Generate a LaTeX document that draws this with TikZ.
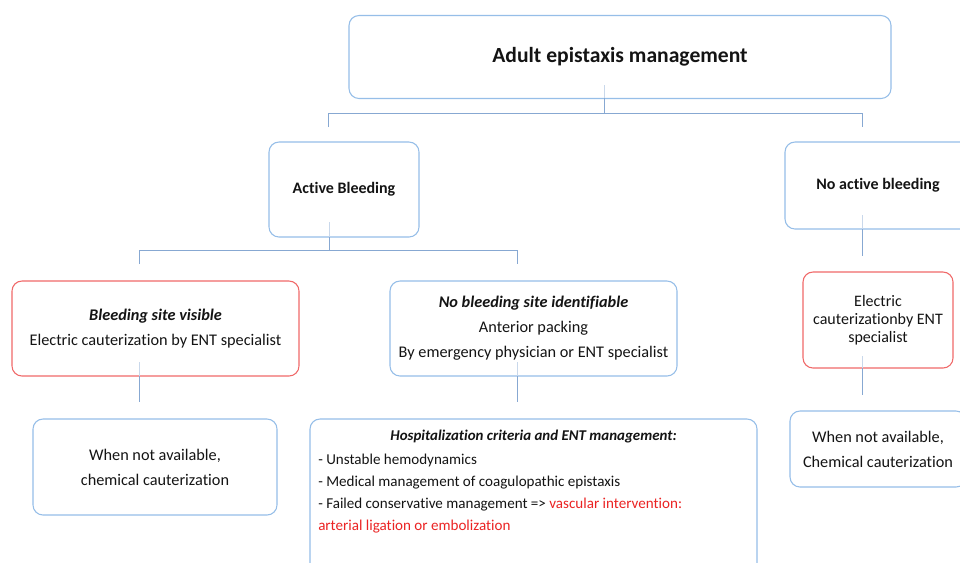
\documentclass[tikz,border=0pt]{standalone}
\usepackage{fontspec}
\setmainfont{Carlito}[Ligatures=NoCommon]
\usetikzlibrary{calc}
\definecolor{bbord}{RGB}{150,190,232}
\definecolor{rbord}{RGB}{240,105,105}
\definecolor{conn}{RGB}{135,168,210}
\definecolor{redtxt}{RGB}{235,35,35}
\definecolor{txtc}{RGB}{20,20,20}
\begin{document}
\begin{tikzpicture}[x=0.75pt,y=-0.75pt,
  box/.style={draw=bbord, line width=0.8pt, rounded corners=7.5pt, rectangle, inner sep=0pt, align=center, text=txtc, font=\fontsize{12.2}{18.75}\selectfont},
  redbox/.style={box, draw=rbord},
  boldlbl/.style={font=\fontsize{12}{14}\selectfont\bfseries},
  hosptxt/.style={inner sep=0pt, anchor=west, text=txtc, font=\fontsize{11.3}{13}\selectfont},
  conline/.style={draw=conn, line width=0.75pt},
  inline/.style={draw=conn!45, line width=0.75pt}]
\useasboundingbox (0,0) rectangle (960,562);
\clip (0,0) rectangle (960,562);
\fill[white] (0,0) rectangle (960,562);
% boxes
\node[box, minimum width=406.5pt, minimum height=62.25pt, font=\fontsize{16.2}{19}\selectfont\bfseries] (top) at (620,57) {Adult epistaxis management};
\node[box, boldlbl, minimum width=112.5pt, minimum height=71.25pt] (active) at (344,189.5) {Active Bleeding};
\node[box, boldlbl, minimum width=139.5pt, minimum height=65.25pt] (noact) at (878,185.5) {No active bleeding};
\node[redbox, minimum width=215.25pt, minimum height=71.25pt] (site) at (155.5,328.5) {\textbf{\textit{Bleeding site visible}}\\Electric cauterization by ENT specialist};
\node[box, minimum width=215.25pt, minimum height=71.25pt] (nosite) at (533.5,328.5) {\textbf{\textit{No bleeding site identifiable}}\\Anterior packing\\By emergency physician or ENT specialist};
\node[redbox, minimum width=112.5pt, minimum height=72pt, font=\fontsize{12}{13.5}\selectfont] (elec) at (878,320) {Electric\\cauterizationby ENT\\specialist};
\node[box, minimum width=183pt, minimum height=72pt] (wnal) at (155,467) {When not available,\\chemical cauterization};
\node[box, minimum width=132pt, minimum height=57pt] (wnar) at (878,449) {When not available,\\Chemical cauterization};
\node[box, minimum width=335.25pt, minimum height=117pt] (hosp) at (533.5,497) {};
% hospitalization texts
\node[inner sep=0pt, text=txtc, font=\fontsize{11.2}{13}\selectfont\bfseries\itshape] (htitle) at (533.5,437) {Hospitalization criteria and ENT management:};
\node[hosptxt] (h1) at (318,460) {- Unstable hemodynamics};
\node[hosptxt] (h2) at (318,483) {- Medical management of coagulopathic epistaxis};
\node[hosptxt] (h3) at (318,505) {- Failed conservative management => \textcolor{redtxt}{vascular intervention:}};
\node[hosptxt, text=redtxt] (h4) at (318,527) {arterial ligation or embolization};
% junction coordinates
\coordinate (t0) at (604,85);
\coordinate (tb) at (604,98);
\coordinate (tj) at (604,113);
\coordinate (tl) at (328,113);
\coordinate (tr) at (862,113);
\coordinate (tle) at (328,127);
\coordinate (tre) at (862,127);
\coordinate (a0) at (329,222);
\coordinate (ab) at (329,237);
\coordinate (aj) at (329,250);
\coordinate (al) at (139,250);
\coordinate (ar) at (517,250);
\coordinate (ale) at (139,264);
\coordinate (are) at (517,264);
\coordinate (n0) at (862,215);
\coordinate (nb) at (862,229);
\coordinate (ne) at (862,256);
\coordinate (s0) at (139,362);
\coordinate (sb) at (139,376);
\coordinate (se) at (139,402);
\coordinate (p0) at (517,362);
\coordinate (pb) at (517,376);
\coordinate (pe) at (517,402);
\coordinate (e0) at (862,356);
\coordinate (eb) at (862,368);
\coordinate (ee) at (862,395);
% connectors
\draw[inline] (t0) -- (tb);
\draw[conline] (tb) -- (tj);
\draw[conline] (tle) -- (tl) -- (tr) -- (tre);
\draw[inline] (a0) -- (ab);
\draw[conline] (ab) -- (aj);
\draw[conline] (ale) -- (al) -- (ar) -- (are);
\draw[inline] (n0) -- (nb);
\draw[conline] (nb) -- (ne);
\draw[inline] (s0) -- (sb);
\draw[conline] (sb) -- (se);
\draw[inline] (p0) -- (pb);
\draw[conline] (pb) -- (pe);
\draw[inline] (e0) -- (eb);
\draw[conline] (eb) -- (ee);
\end{tikzpicture}
\end{document}
